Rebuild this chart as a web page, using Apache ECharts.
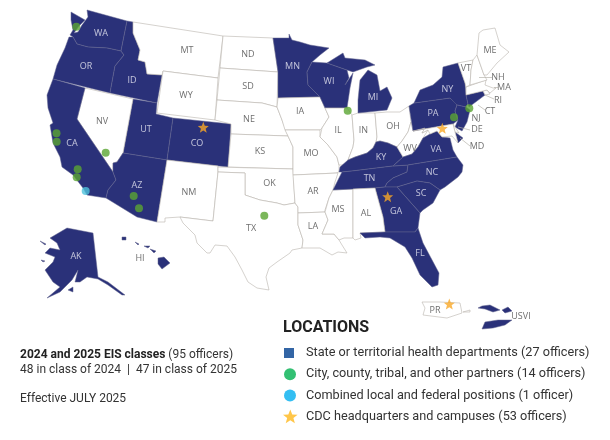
<!DOCTYPE html>
<html><head><meta charset="utf-8">
<style>html,body{margin:0;padding:0;background:#fff}#c{width:610px;height:440px}</style>
<script src="https://cdn.jsdelivr.net/npm/echarts@6/dist/echarts.min.js"></script>
</head><body><div id="c"></div>
<script>
// ---- data ----
const healthDeptName = 'State or territorial health departments (27 officers)';
const cityName = 'City, county, tribal, and other partners (14 officers)';
const combinedName = 'Combined local and federal positions (1 officer)';
const cdcName = 'CDC headquarters and campuses (53 officers)';

const healthDeptStates = ['WA','OR','CA','ID','UT','AZ','CO','MN','WI','MI','NY','PA','NJ','CT','VA','NC','SC','GA','FL','TN','KY','AK','HI','USVI'];

// state labels as placed on the map (image x, y)
const navyLabels = [['WA',101,33],['OR',86,66],['CA',72,143],['ID',132,80],['UT',146,129],['AZ',137,185],['CO',197,143],['MN',292.5,66],['WI',329,81],['MI',373,97],['NY',447.5,89],['PA',433,113],['VA',436,149],['NC',432,172],['SC',421,193],['GA',396,211],['FL',420,253],['TN',369.5,178],['KY',381,157],['AK',76,256]];
const whiteLabels = [['MT',187,50],['WY',186,95],['NV',102,121.5],['NM',189,192],['ND',248,54],['SD',248,86],['NE',249,119],['KS',260,151],['OK',269.5,183],['TX',251,228],['IA',300,111],['IL',338,130],['IN',363.5,130.5],['OH',393,126],['MO',311,153],['AR',313,191],['LA',313,226],['MS',338,209],['AL',366,213],['WV',410,148],['VT',466,68],['ME',490,50],['NH',498,77],['MA',504,87],['RI',498,100],['CT',490,111],['NJ',476,118],['DE',477,129],['MD',477,146],['HI',140,258],['PR',435,310],['USVI',521,316]];

const cityPoints = [[76.3,26.7],[56.5,133.3],[56.7,141.7],[105.7,152.7],[77.7,169.3],[76.7,177.3],[133.7,196],[139,208.3],[264.3,215.7],[347.7,110.7],[469.3,108.3],[454,117.3]];
const combinedPoints = [[85.7,191]];
const cdcPoints = [[203.3,127.3],[387.7,196.7],[442.3,128.3],[449.3,304]];

const leaderLines = [[[479,77],[492,77]],[[494,87],[498,87]],[[485,95],[494,99]],[[478,105],[485,110]],[[458,127],[470,130]],[[460,138],[470,146]]];

// state outlines
const shapes = {
WA:[[[71,12],[85,20],[79,26],[74,33],[78,32],[82,25],[88,17],[87,10],[127,21],[121,51],[107,48],[88,47],[77,44],[73,37],[70,35],[73,30],[71,20]]],
OR:[[[73,37],[77,44],[88,47],[107,48],[121,51],[124,55],[115,66],[110,93],[53,79],[57,65],[65,48],[69,37]]],
ID:[[[127,21],[133,22],[133,33],[140,50],[138,60],[145,62],[147,74],[162,75],[157,103],[110,93],[115,66],[124,55],[121,51]]],
MT:[[[133,22],[223,36],[218,78],[163,71],[162,75],[147,74],[145,62],[138,60],[140,50],[133,33]]],
WY:[[[163,71],[218,78],[215,120],[157,113]]],
UT:[[[133,99],[157,103],[156,114],[173,118],[167,160],[123,153]]],
CO:[[[173,118],[231,124],[228,167],[167,160]]],
NV:[[[85,88],[133,99],[123,153],[117,162],[113,163],[113,172],[77,119]]],
CA:[[[53,79],[85,88],[77,119],[113,172],[116,180],[108,190],[106,198],[87,195],[83,188],[73,175],[62,167],[60,157],[53,143],[50,125],[53,123],[48,108],[47,95]]],
AZ:[[[123,153],[167,160],[157,222],[137,217],[106,198],[108,190],[116,180],[113,172],[113,163],[117,162]]],
NM:[[[167,160],[218,166],[218,172],[213,221],[180,217],[165,218],[165,222],[157,222]]],
ND:[[[223,36],[273,38],[278,72],[220,68]]],
SD:[[[220,68],[278,72],[277,107],[262,103],[217,100]]],
NE:[[[217,100],[262,103],[277,107],[282,120],[288,136],[231,134],[231,124],[215,120]]],
KS:[[[231,134],[288,136],[293,147],[293,169],[228,167]]],
OK:[[[218,167],[293,169],[295,203],[284,205],[277,203],[260,200],[245,195],[245,173],[218,172]]],
TX:[[[218,172],[245,173],[245,195],[260,200],[277,203],[284,205],[295,203],[298,207],[298,225],[303,240],[302,248],[292,250],[290,253],[277,262],[269,268],[266,277],[269,290],[257,288],[248,282],[242,270],[235,257],[227,246],[215,245],[210,253],[207,253],[197,243],[195,235],[183,223],[180,217],[213,221]]],
MN:[[[273,38],[289,38],[289,34],[292,40],[300,42],[310,45],[329,48],[320,55],[312,62],[307,72],[308,85],[320,97],[278,98],[278,72]]],
IA:[[[278,98],[320,97],[325,108],[329,117],[322,128],[320,130],[285,130],[282,120],[277,107]]],
MO:[[[285,130],[320,130],[320,137],[328,145],[337,157],[339,165],[339,172],[336,173],[293,175],[293,147],[288,136]]],
AR:[[[293,175],[338,173],[335,182],[333,190],[329,198],[325,210],[325,212],[298,213],[298,207],[295,203]]],
LA:[[[298,213],[325,212],[328,220],[322,234],[334,234],[339,240],[342,245],[347,253],[338,252],[332,255],[320,248],[302,248],[303,240],[298,225]]],
MS:[[[333,190],[353,189],[353,238],[344,238],[339,240],[334,234],[322,234],[328,220],[325,212],[329,198]]],
WI:[[[307,72],[312,62],[327,63],[347,70],[349,78],[345,85],[353,73],[350,88],[347,108],[325,108],[320,97],[308,85]]],
IL:[[[325,108],[347,108],[352,115],[354,140],[353,147],[348,160],[346,165],[339,165],[337,157],[328,145],[320,137],[322,128],[329,117]]],
IN:[[[352,115],[358,113],[375,113],[377,137],[376,142],[373,148],[367,153],[355,157],[348,160],[353,147],[354,140]]],
MI:[[[358,113],[387,110],[392,98],[387,87],[380,91],[377,75],[368,70],[360,80],[358,100]],[[327,63],[343,53],[345,58],[365,60],[375,65],[367,67],[353,72],[347,70]]],
OH:[[[375,113],[387,112],[400,112],[409,106],[411,122],[408,132],[402,141],[397,147],[388,143],[380,141],[376,142],[377,137]]],
KY:[[[339,172],[340,167],[348,160],[355,157],[367,153],[373,148],[376,142],[380,141],[388,143],[397,147],[403,157],[393,166],[352,171],[342,172]]],
TN:[[[342,172],[352,171],[393,166],[408,165],[407,172],[393,178],[387,183],[385,187],[375,188],[353,189],[333,190],[338,180]]],
WV:[[[397,147],[402,141],[408,132],[411,122],[413,131],[425,128],[422,133],[428,130],[423,138],[418,147],[412,154],[403,157]]],
VA:[[[393,166],[403,157],[412,154],[418,147],[423,138],[430,134],[437,131],[442,137],[450,138],[453,150],[457,157],[408,165]],[[455,132],[463,138],[458,143]]],
NC:[[[408,165],[457,157],[463,165],[462,172],[458,177],[445,187],[440,190],[430,183],[417,181],[397,187],[385,187],[387,183],[393,178],[407,172]]],
SC:[[[397,187],[417,181],[430,183],[440,190],[433,203],[423,210],[420,213]]],
GA:[[[375,188],[385,187],[397,187],[420,213],[418,228],[415,232],[385,232],[383,217]]],
AL:[[[353,189],[375,188],[383,217],[385,232],[360,233],[361,238],[355,240],[353,238]]],
FL:[[[360,233],[385,232],[415,232],[418,228],[423,243],[439,273],[438,285],[432,287],[420,275],[412,258],[405,247],[390,238],[380,237],[365,238]]],
PA:[[[409,106],[414,103],[450,98],[456,103],[457,105],[455,111],[458,120],[453,124],[413,131]]],
NY:[[[414,103],[420,90],[433,85],[442,77],[443,67],[458,63],[465,83],[466,95],[468,104],[466,107],[457,105],[450,98]]],
NJ:[[[457,105],[466,107],[470,110],[467,122],[462,131],[455,127],[458,120],[455,111]]],
DE:[[[453,124],[455,127],[459,133],[455,132]]],
MD:[[[413,131],[453,124],[455,132],[458,143],[452,136],[442,137],[437,131],[430,134],[428,130],[422,133],[425,128]]],
CT:[[[466,95],[483,91],[485,95],[469,107],[468,104]]],
RI:[[[483,91],[487,90],[490,94],[485,95]]],
MA:[[[466,87],[486,80],[485,85],[493,88],[496,88],[490,93],[487,90],[483,91],[466,95]]],
VT:[[[458,63],[473,60],[471,70],[470,85],[466,87],[465,83]]],
NH:[[[473,60],[477,55],[484,75],[487,80],[470,85],[471,70]]],
ME:[[[477,55],[479,33],[483,30],[495,28],[500,45],[509,52],[497,63],[487,75],[484,75]]],
AK:[[[50,238],[67,228],[93,233],[98,277],[108,282],[125,295],[122,295],[108,285],[98,279],[87,277],[80,282],[75,282],[78,270],[72,280],[60,292],[47,298],[60,287],[53,282],[45,270],[53,262],[55,257],[45,253],[50,248],[60,250],[57,243]],[[68,290],[73,287],[73,292]],[[40,241],[46,244],[45,245]],[[41,260],[45,261],[43,262]]],
HI:[[[158,258],[164,257],[170,263],[162,269],[158,264]],[[122,237],[126,237],[126,240],[122,240]],[[135,242],[139,244],[138,245]],[[144,246],[150,246],[148,248]],[[150,249],[156,251],[154,253]]],
PR:[[[422,302],[440,302],[460,303],[462,313],[447,318],[423,315],[425,308]],[[463,312],[470,310],[470,312]]],
USVI:[[[478,308],[482,306],[490,305],[500,310],[493,312],[485,309]],[[502,310],[508,307],[512,311],[505,313]],[[482,329],[485,322],[498,320],[512,320],[505,325],[493,328]]]
};
const flip = p => [p[0], 440 - p[1]];
const geoJson = {type:'FeatureCollection',features:Object.keys(shapes).map(name => ({
  type:'Feature',properties:{name},
  geometry:{type:'MultiPolygon',coordinates:shapes[name].map(r => [r.map(flip)])}
}))};
echarts.registerMap('usmap', geoJson);

const NAVY = '#2a3179';
const labelData = a => a.map(d => ({name:d[0], value:flip([d[1],d[2]])}));
const labelSeriesStyle = color => ({show:true,position:'inside',formatter:'{b}',color,fontFamily:'Open Sans',fontSize:9});
const pad = 'M0 0L0 0M18 14L18 14';
const starPath = 'M7 0L9 5L14.5 5.3L10.2 8.7L11.7 14L7 11L2.3 14L3.8 8.7L-0.5 5.3L5 5Z';
const icons = {
  rect:'path://'+pad+'M1 2L11 2L11 12L1 12Z',
  circle:'path://'+pad+'M1 7A6 6 0 1 1 13 7A6 6 0 1 1 1 7Z',
  star:'path://'+pad+starPath
};
const chart = echarts.init(document.getElementById('c'),null,{renderer:'canvas'});
chart.setOption({
  animation:false,
  backgroundColor:'#fff',
  title:[
    {text:'LOCATIONS',left:283,top:320,padding:0,textStyle:{fontFamily:'Roboto',fontSize:16,fontWeight:'bold',color:'#222'}},
    {text:'{b|2024 and 2025 EIS classes} (95 officers)\n48 in class of 2024  |  47 in class of 2025\n\nEffective JULY 2025',left:20,top:348,padding:0,
     textStyle:{fontFamily:'Roboto',fontSize:12,fontWeight:'normal',color:'#333',lineHeight:14.5,
       rich:{b:{fontFamily:'Roboto',fontSize:12,fontWeight:'bold',color:'#222',lineHeight:14.5}}}}
  ],
  legend:{
    orient:'vertical',left:283,top:346,padding:0,itemWidth:18,itemHeight:14,itemGap:7.2,
    selectedMode:false,
    textStyle:{fontFamily:'Roboto',fontSize:12.7,color:'#333'},
    data:[
      {name:healthDeptName,icon:icons.rect,itemStyle:{color:'#003f8f'}},
      {name:cityName,icon:icons.circle,itemStyle:{color:'#00b050'}},
      {name:combinedName,icon:icons.circle,itemStyle:{color:'#00aeef'}},
      {name:cdcName,icon:icons.star,itemStyle:{color:'#ffb81c'}}
    ]
  },
  geo:{
    map:'usmap',roam:false,silent:true,aspectScale:1,
    boundingCoords:[[0,440],[610,0]],left:0,top:0,width:610,height:440,
    itemStyle:{areaColor:'#fff',borderColor:'#b8b4ac',borderWidth:0.6},
    label:{show:false},
    emphasis:{disabled:true},
    regions:healthDeptStates.map(name => ({name,itemStyle:{areaColor:NAVY,borderColor:'#63658f',borderWidth:0.5},emphasis:{disabled:true}}))
  },
  series:[
    {type:'lines',coordinateSystem:'geo',silent:true,z:3,lineStyle:{color:'#b8b4ac',width:0.7,opacity:1},
     data:leaderLines.map(l => ({coords:l.map(flip)}))},
    {name:healthDeptName,type:'scatter',coordinateSystem:'geo',silent:true,symbolSize:0,z:4,itemStyle:{color:'#003f8f'},
     label:labelSeriesStyle('#e8e9f3'),data:labelData(navyLabels)},
    {name:'State labels',type:'scatter',coordinateSystem:'geo',silent:true,symbolSize:0,z:4,
     label:labelSeriesStyle('#4a4a4a'),data:labelData(whiteLabels)},
    {name:cityName,type:'scatter',coordinateSystem:'geo',silent:true,symbol:'circle',symbolSize:8,z:5,itemStyle:{color:'#5aa532'},data:cityPoints.map(flip)},
    {name:combinedName,type:'scatter',coordinateSystem:'geo',silent:true,symbol:'circle',symbolSize:8,z:5,itemStyle:{color:'#4fc3dc'},data:combinedPoints.map(flip)},
    {name:cdcName,type:'scatter',coordinateSystem:'geo',silent:true,symbol:'path://'+starPath,symbolSize:11,z:5,itemStyle:{color:'#f9a825'},data:cdcPoints.map(flip)}
  ]
});
</script></body></html>
